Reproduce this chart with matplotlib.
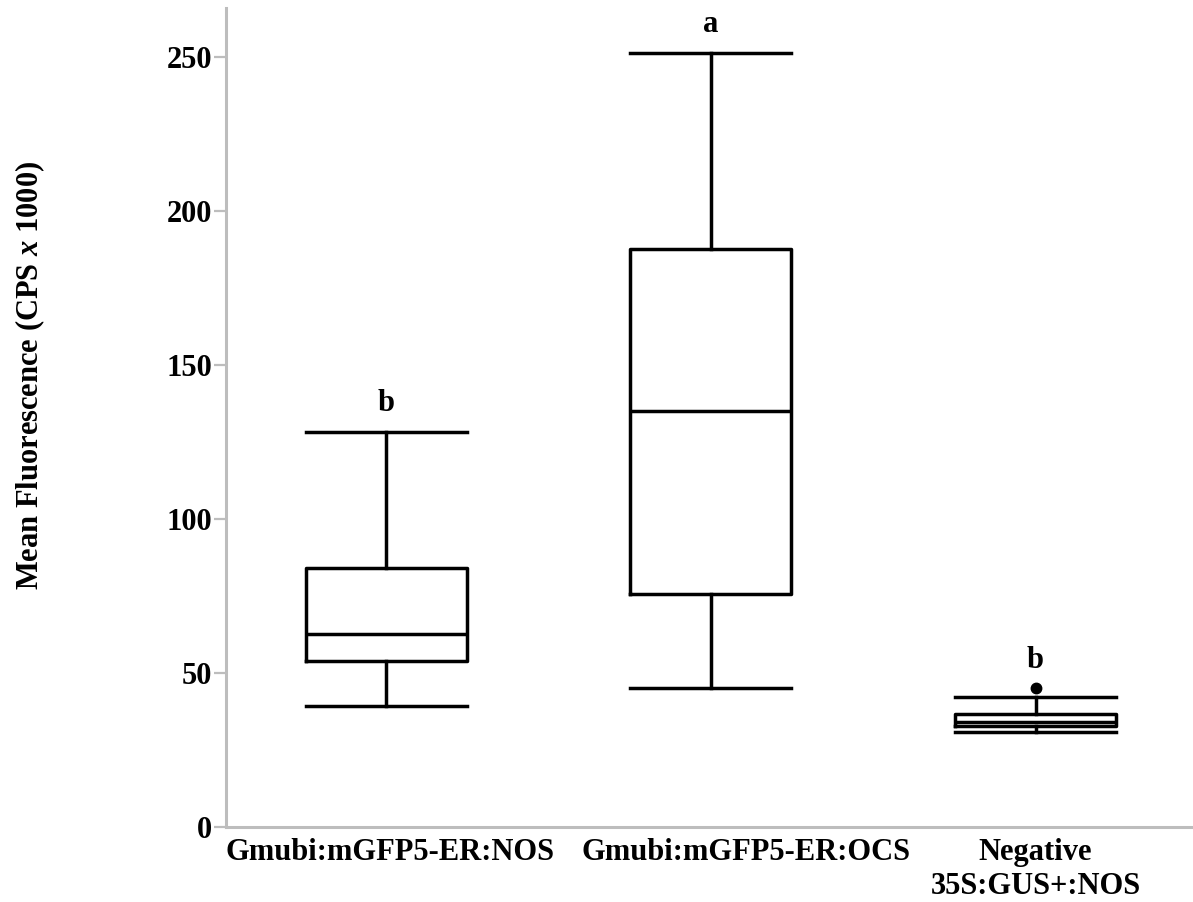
import matplotlib
matplotlib.use("Agg")
import matplotlib.pyplot as plt
import matplotlib.transforms as mtransforms

categories = ["Gmubi:mGFP5-ER:NOS", "Gmubi:mGFP5-ER:OCS", "Negative\n35S:GUS+:NOS"]
whislo = [39.3, 45.2, 30.9]
q1 = [54.0, 75.6, 32.8]
med = [62.6, 135.1, 34.2]
q3 = [84.2, 187.7, 36.6]
whishi = [128.3, 251.4, 42.1]
fliers = [[], [], [45.0]]
letters = ["b", "a", "b"]
yticks = [0, 50, 100, 150, 200, 250]

plt.rcParams['font.family'] = ['Liberation Serif']
plt.rcParams['font.weight'] = 'bold'
plt.rcParams['mathtext.fontset'] = 'custom'
plt.rcParams['mathtext.it'] = 'Liberation Serif:bold:italic'
plt.rcParams['mathtext.rm'] = 'Liberation Serif:bold'

fig = plt.figure(figsize=(11.93, 9.02), dpi=100)
ax = fig.add_axes([226/1193, 1-827/902, 1-226/1193, (827-8)/902])

stats = []
for i in range(3):
    stats.append(dict(label=categories[i], whislo=whislo[i], q1=q1[i], med=med[i],
                      q3=q3[i], whishi=whishi[i], fliers=fliers[i]))

lw = 2.5
ax.bxp(stats, positions=[1, 2, 3], widths=0.496, showfliers=True,
       boxprops=dict(color='black', linewidth=lw),
       medianprops=dict(color='black', linewidth=lw),
       whiskerprops=dict(color='black', linewidth=lw),
       capprops=dict(color='black', linewidth=lw),
       capwidths=0.496,
       flierprops=dict(marker='o', markerfacecolor='black', markeredgecolor='black', markersize=7.5))

for i, lt in enumerate(letters):
    top = max([whishi[i]] + fliers[i])
    ax.annotate(lt, xy=(i + 1, top), xytext=(0, 10), textcoords='offset points',
                ha='center', va='bottom', fontsize=22, fontweight='bold')

ax.set_xlim(0.507, 3.485)
ax.set_ylim(0, 265.9)
ax.set_yticks(yticks)
ax.set_yticklabels([str(t) for t in yticks])
ax.set_xticks([1, 2, 3])
ax.set_xticklabels(categories)

for s in ['top', 'right']:
    ax.spines[s].set_visible(False)
for s in ['left', 'bottom']:
    ax.spines[s].set_color('#bdbdbd')
    ax.spines[s].set_linewidth(2.2)

ax.tick_params(axis='y', length=9, width=1.6, color='#bdbdbd', labelsize=22, pad=1)
ax.tick_params(axis='x', length=0, labelsize=22, pad=8)
for lab in ax.get_xticklabels() + ax.get_yticklabels():
    lab.set_fontweight('bold')

# horizontal shifts of x tick labels (pixels at dpi 100)
shifts_px = [4, 35, 0]
for lab, sh in zip(ax.get_xticklabels(), shifts_px):
    off = mtransforms.ScaledTranslation(sh / 100.0, 0, fig.dpi_scale_trans)
    lab.set_transform(lab.get_transform() + off)

fig.text(30/1193, 1-375/902, r"Mean Fluorescence (CPS $x$ 1000)", rotation=90,
         ha='center', va='center', fontsize=22, fontweight='bold')

fig.savefig("out.png", dpi=100)
